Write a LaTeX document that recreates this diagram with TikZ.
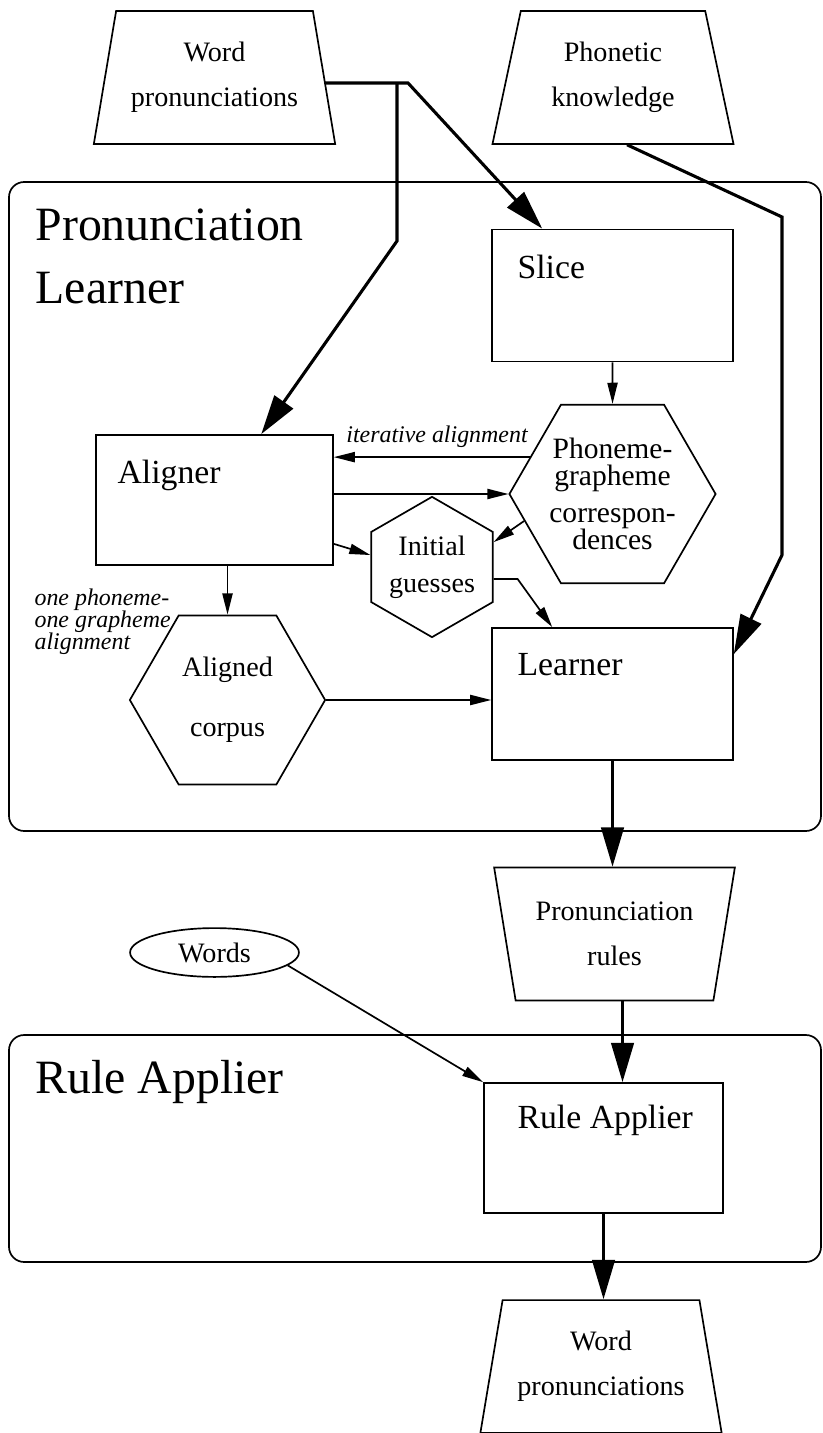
\documentclass[tikz,border=0pt]{standalone}
\usepackage{fontspec}
\setmainfont{Liberation Serif}
\usetikzlibrary{shapes.geometric,arrows.meta,calc}

\newcommand\tightlines{\lineskiplimit=-20pt\relax}

\tikzset{
  store/.style={trapezium, draw, line width=0.6pt, trapezium left angle=75, trapezium right angle=75,
    trapezium stretches=true, minimum width=3.02cm, minimum height=1.66cm, inner sep=0pt, align=center,
    font=\fontsize{10}{16}\selectfont},
  unit/.style={rectangle, draw, line width=0.6pt, minimum width=3.01cm, minimum height=1.65cm, inner sep=0pt},
  unitlbl/.style={anchor=west, inner sep=0pt, font=\fontsize{12}{14}\selectfont},
  hexa/.style={regular polygon, regular polygon sides=6, draw, line width=0.6pt, inner sep=0pt,
    align=center, minimum size=2.44cm},
  bigtitle/.style={anchor=west, inner sep=0pt, align=left, font=\fontsize{17}{22.4}\selectfont},
  italbl/.style={inner sep=0pt, font=\fontsize{8.5}{7.9}\selectfont\itshape},
  panel/.style={draw, line width=0.6pt, rounded corners=0.19cm},
  bigarrow/.style={line width=1.1pt, -{Triangle[length=14pt,width=8pt]}},
  smallarrow/.style={line width=0.6pt, -{Triangle[length=7.5pt,width=3.6pt]}},
}

\begin{document}
\begin{tikzpicture}[x=0.0125cm, y=-0.0125cm]
\useasboundingbox (0,0) rectangle (822,1433);

% the two parts
\draw[panel] (9,182) rectangle (821,831);
\draw[panel] (9,1035) rectangle (821,1262);
\node[bigtitle] (learnTitle) at (35,256) {Pronunciation\\Learner};
\node[bigtitle] (applyTitle) at (35,1082) {Rule Applier};

% inputs and outputs
\node[store] (wordsIn) at (214.5,77.5) {Word\\pronunciations};
\node[store] (phonetic) at (613,77.5) {Phonetic\\knowledge};
\node[store, trapezium left angle=105, trapezium right angle=105] (rules) at (614.5,934) {Pronunciation\\rules};
\node[store] (wordsOut) at (601,1366.5) {Word\\pronunciations};
\node[ellipse, draw, line width=0.6pt, minimum width=2.11cm, minimum height=0.61cm, inner sep=0pt,
  font=\fontsize{10}{12}\selectfont] (words) at (214.5,952.5) {Words};

% boxes
\node[unit] (slice) at (612.5,295.5) {};
\node[unitlbl] (sliceLbl) at (517,267) {Slice};
\node[unit, minimum width=2.96cm, minimum height=1.625cm] (aligner) at (214.5,500) {};
\node[unitlbl] (alignerLbl) at (117,475) {Aligner};
\node[unit] (learner) at (612.5,694) {};
\node[unitlbl] (learnerLbl) at (517,665) {Learner};
\node[unit, minimum width=2.99cm, minimum height=1.625cm] (applier) at (603.5,1148) {};
\node[unitlbl] (applierLbl) at (517,1120) {Rule Applier};

% hexagons
\node[hexa, font=\fontsize{10.5}{9.7}\selectfont\tightlines] (corresp) at (612.5,494)
  {Phoneme-\\grapheme\\[3.4pt]correspon-\\dences};
\node[hexa, shape border rotate=30, minimum size=1.75cm, font=\fontsize{10}{13.2}\selectfont] (guesses)
  at (432,567) {Initial\\guesses};
\node[hexa, font=\fontsize{10}{21.3}\selectfont] (corpus) at (227.5,700) {Aligned\\corpus};

% labels
\node[italbl] (iterLbl) at (437,437) {iterative alignment};
\node[italbl, anchor=west, align=left] (oneLbl) at (34,622) {one phoneme-\\one grapheme\\alignment};

% connectors
\coordinate (bendA) at (408,83);
\coordinate (bendB) at (397,83);
\coordinate (bendC) at (397,241);
\coordinate (bendD) at (782,217);
\coordinate (bendE) at (782,555);
\coordinate (rulesOut) at ($(rules.south)+(8,0)$);

\draw[bigarrow] (wordsIn.east |- bendA) -- (bendA) -- ($(slice.north west)+(51,0)$);
\draw[bigarrow] (bendB) -- (bendC) -- ($(aligner.north west)+(166,0)$);
\draw[bigarrow] ($(phonetic.south)+(14,0)$) -- (bendD) -- (bendE) -- ($(learner.north east)+(0,27)$);
\draw[smallarrow] (slice.south) -- (corresp.north);
\draw[smallarrow] (corresp.156) -- (corresp.156 -| aligner.east);
\draw[smallarrow] (aligner.east |- corresp.west) -- (corresp.west);
\draw[smallarrow] ($(aligner.south east)+(0,-22)$) -- (guesses.169);
\draw[smallarrow] (corresp.197) -- (guesses.22);
\draw[smallarrow] (guesses.349) -- ++(24,0) -- ($(learner.north west)+(61,0)$);
\draw[smallarrow] (corpus.north |- aligner.south) -- (corpus.north);
\draw[smallarrow] (corpus.east) -- (corpus.east -| learner.west);
\draw[bigarrow] (learner.south) -- (learner.south |- rules.north);
\draw[bigarrow] (rulesOut) -- (rulesOut |- applier.north);
\draw[bigarrow] (applier.south) -- (applier.south |- wordsOut.north);
\draw[smallarrow] (words.350) -- (applier.north west);
\end{tikzpicture}
\end{document}
